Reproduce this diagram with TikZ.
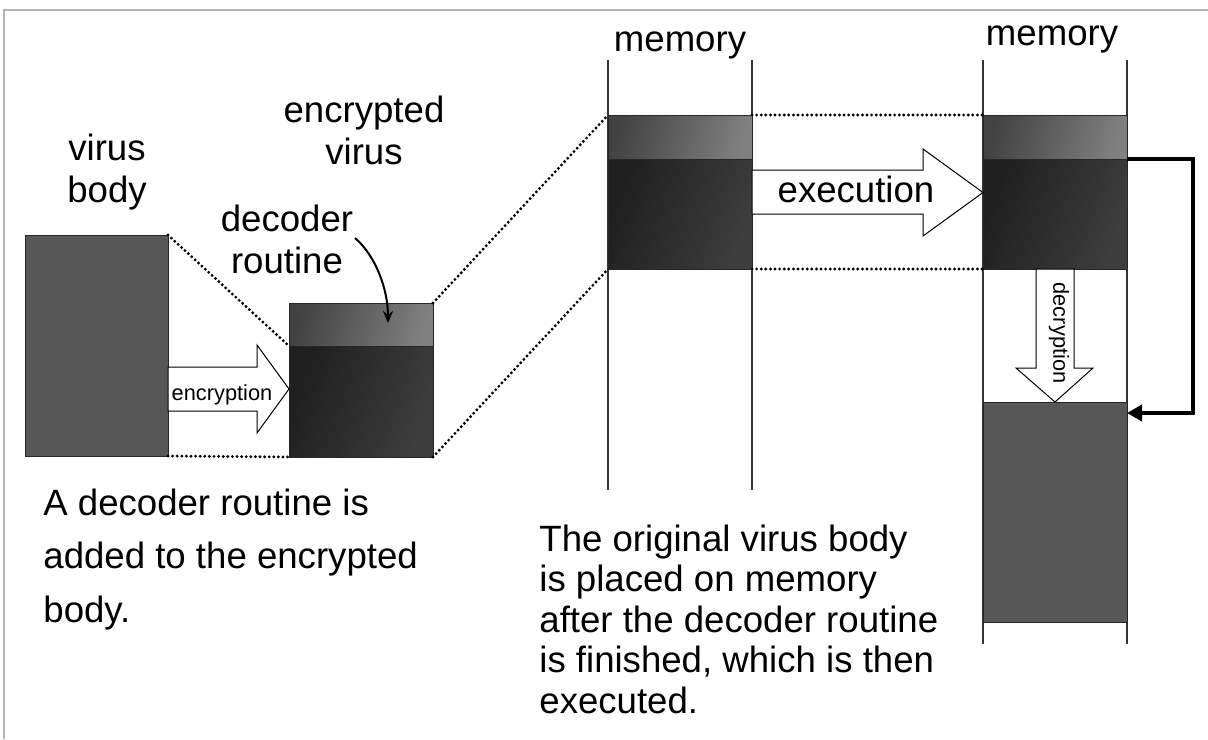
\documentclass[tikz,border=0pt]{standalone}
\usepackage{fontspec}
\setmainfont{Liberation Sans}
\usetikzlibrary{arrows.meta}

\newcommand{\pxu}{0.5pt}
\definecolor{plainbody}{HTML}{575757}
\definecolor{framegray}{HTML}{B4B4B4}

\tikzset{
  bigtext/.style={font=\fontsize{18.3}{21}\selectfont, inner sep=0pt, align=center},
  smalltext/.style={font=\fontsize{10.9}{12}\selectfont, inner sep=0pt},
  paragraph/.style={font=\fontsize{18.3}{26.75}\selectfont, inner sep=0pt, align=left, anchor=base west},
  tightpar/.style={font=\fontsize{18.3}{20.2}\selectfont, inner sep=0pt, align=left, anchor=base west},
  blockbase/.style={draw=black!85, line width=0.5pt, inner sep=0pt, outer sep=0pt, minimum width=144*\pxu},
  flatbox/.style={blockbase, fill=plainbody},
  decoderbox/.style={blockbase, left color=black!74, right color=black!50, shading angle=75, minimum height=44*\pxu},
  codebox/.style={blockbase, left color=black!88, right color=black!76, shading angle=70, minimum height=110*\pxu},
  blockarrow/.style={draw=black, fill=white, line width=0.5pt, line join=miter},
  dotline/.style={line width=1.6pt, dash pattern=on 0pt off 2.3pt, line cap=round},
  memline/.style={draw=black!80, line width=0.6pt},
  pointer/.style={line width=1pt, -{Stealth[length=6pt, width=5pt]}},
  returnline/.style={line width=2pt, line join=miter, -{Triangle[length=7.5pt, width=8pt]}}
}

\begin{document}
\begin{tikzpicture}[x=0.5pt, y=-0.5pt]
\useasboundingbox (0,0) rectangle (1208,739);

% page frame
\draw[framegray, line width=1pt] (4,739) -- (4,10) -- (1208,10);

% memory columns
\draw[memline] (608,60) -- (608,490);
\draw[memline] (752,60) -- (752,490);
\draw[memline] (983,60) -- (983,644);
\draw[memline] (1127,60) -- (1127,644);

% plain virus body
\node[flatbox, minimum width=143*\pxu, minimum height=221*\pxu] (vbody) at (96.5,345.5) {};

% encrypted virus: decoder routine on top of encrypted body
\node[codebox, minimum height=111*\pxu] (encbody) at (361,401.5) {};
\node[decoderbox, minimum height=43*\pxu] (encdec) at (361,324.5) {};

% first memory image
\node[codebox] (m1body) at (680,214) {};
\node[decoderbox] (m1dec) at (680,137) {};

% second memory image
\node[codebox] (m2body) at (1055,214) {};
\node[decoderbox] (m2dec) at (1055,137) {};
\node[flatbox, minimum height=220*\pxu] (m2orig) at (1055,512) {};

% dotted projection lines
\draw[dotline] (vbody.north east) -- (encbody.north west);
\draw[dotline] (vbody.south east) -- (encbody.south west);
\draw[dotline] (encdec.north east) -- (m1dec.north west);
\draw[dotline] (encbody.south east) -- (m1body.south west);
\draw[dotline] (m1dec.north east) -- (m2dec.north west);
\draw[dotline] (m1body.south east) -- (m2body.south west);

% encryption arrow
\draw[blockarrow] (168,367) -- (257,367) -- (257,345) -- (289,389)
  -- (257,433) -- (257,411) -- (168,411) -- cycle;
\node[smalltext, anchor=base] (enclbl) at (222,400) {encryption};

% execution arrow
\draw[blockarrow] (752,170) -- (923,170) -- (923,149) -- (983,192.5)
  -- (923,236) -- (923,214) -- (752,214) -- cycle;
\node[bigtext, anchor=base] (execlbl) at (856,202) {execution};

% decryption arrow
\draw[blockarrow] (1036,269) -- (1036,368) -- (1016,368) -- (1055,402)
  -- (1093,368) -- (1074,368) -- (1074,269) -- cycle;
\node[smalltext, rotate=-90] (declbl) at (1059,333) {decryption};

% jump from the decoder to the restored body
\coordinate (retend) at (1127,413);
\draw[returnline] (m2body.north east) -- ++(66,0) |- (retend);

% labels (base anchor sits on the last line)
\node[bigtext, anchor=base] (lblbody) at (107,202) {virus\\body};
\node[bigtext, anchor=base] (lblenc) at (364,164) {encrypted\\virus};
\node[bigtext, anchor=base] (lbldec) at (287,273) {decoder\\routine};
\node[bigtext, anchor=base] (mem1) at (680,51) {memory};
\node[bigtext, anchor=base] (mem2) at (1052,45) {memory};

% pointer from the label to the decoder block
\coordinate (ptrstart) at (355,238);
\coordinate (ptrend) at (388,323);
\draw[pointer] (ptrstart) .. controls (376,256) and (388,290) .. (ptrend);

% explanations
\node[paragraph] (noteleft) at (43,622) {A decoder routine is\\added to the encrypted\\body.};
\node[tightpar] (noteright) at (539,713) {The original virus body\\is placed on memory\\after the decoder routine\\is finished, which is then\\executed.};
\end{tikzpicture}
\end{document}
